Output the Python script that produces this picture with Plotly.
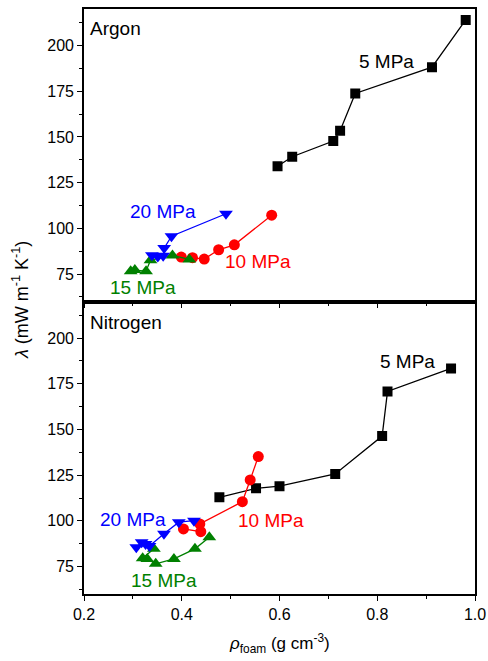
import plotly.graph_objects as go
from plotly.subplots import make_subplots

# ---- Data: Argon (top panel) ----
ar_5_x = [0.596, 0.626, 0.710, 0.724, 0.755, 0.912, 0.981]
ar_5_y = [134.0, 139.2, 147.8, 153.4, 173.8, 188.2, 214.0]
ar_10_x = [0.399, 0.422, 0.446, 0.4755, 0.5076, 0.584]
ar_10_y = [84.3, 84.0, 83.2, 88.3, 91.0, 107.2]
ar_15_x = [0.2955, 0.304, 0.327, 0.336, 0.381, 0.4155]
ar_15_y = [76.6, 77.2, 76.6, 82.6, 85.2, 83.0]
ar_20_x = [0.339, 0.351, 0.362, 0.364, 0.379, 0.4905]
ar_20_y = [85.3, 84.6, 85.0, 89.2, 95.7, 108.0]

# ---- Data: Nitrogen (bottom panel) ----
n_5_x = [0.477, 0.552, 0.600, 0.714, 0.810, 0.821, 0.951]
n_5_y = [112.9, 117.8, 119.0, 125.7, 146.4, 170.8, 183.4]
n_10_x = [0.4035, 0.439, 0.437, 0.524, 0.540, 0.5566]
n_10_y = [95.6, 94.1, 98.3, 110.5, 122.4, 135.2]
n_15_x = [0.343, 0.320, 0.3295, 0.3467, 0.384, 0.427, 0.4564]
n_15_y = [84.7, 79.6, 79.2, 76.5, 79.2, 84.7, 91.1]
n_20_x = [0.307, 0.318, 0.326, 0.334, 0.3636, 0.394, 0.425]
n_20_y = [85.6, 88.3, 87.3, 86.3, 92.9, 99.3, 100.1]

x_ticks = [0.2, 0.4, 0.6, 0.8, 1.0]
x_tick_text = ["0.2", "0.4", "0.6", "0.8", "1.0"]
y_ticks = [75, 100, 125, 150, 175, 200]

FONT = "Liberation Sans, Arial, sans-serif"
BLACK, RED, BLUE, GREEN = "#000000", "#FF0000", "#0000FF", "#008000"

fig = make_subplots(rows=2, cols=1, shared_xaxes=True, vertical_spacing=0)

def add(xs, ys, color, symbol, size, row):
    fig.add_trace(go.Scatter(
        x=xs, y=ys, mode="lines+markers",
        line=dict(color=color, width=1.3),
        marker=dict(color=color, symbol=symbol, size=size, line=dict(width=0)),
        showlegend=False), row=row, col=1)

add(ar_5_x, ar_5_y, BLACK, "square", 10, 1)
add(ar_10_x, ar_10_y, RED, "circle", 11, 1)
add(ar_15_x, ar_15_y, GREEN, "triangle-up", 12, 1)
add(ar_20_x, ar_20_y, BLUE, "triangle-down", 12, 1)

add(n_5_x, n_5_y, BLACK, "square", 10, 2)
add(n_10_x, n_10_y, RED, "circle", 11, 2)
add(n_15_x, n_15_y, GREEN, "triangle-up", 12, 2)
add(n_20_x, n_20_y, BLUE, "triangle-down", 12, 2)

xcommon = dict(range=[0.2, 1.0], tickvals=x_ticks, ticktext=x_tick_text,
               ticks="outside", ticklen=5, tickwidth=1.3, tickcolor="black",
               minor=dict(dtick=0.1, tick0=0.2, ticks="outside", ticklen=3, tickwidth=1.2, tickcolor="black"),
               showline=True, linecolor="black", linewidth=1.6, mirror=True,
               showgrid=False, zeroline=False, automargin=False,
               tickfont=dict(family=FONT, size=16, color="black"))
ycommon = dict(range=[60, 220], tickvals=y_ticks,
               ticks="outside", ticklen=5, tickwidth=1.3, tickcolor="black",
               minor=dict(dtick=12.5, tick0=75, ticks="outside", ticklen=3, tickwidth=1.2, tickcolor="black"),
               showline=True, linecolor="black", linewidth=1.6, mirror=True,
               showgrid=False, zeroline=False, automargin=False,
               tickfont=dict(family=FONT, size=16, color="black"))

fig.update_xaxes(**xcommon)
fig.update_xaxes(showticklabels=False, row=1, col=1)
fig.update_xaxes(showticklabels=True, row=2, col=1)
fig.update_yaxes(**ycommon)

ann = []
def label(text, x, y, color, ref, xanchor="center"):
    ann.append(dict(text=text, x=x, y=y, xref="x" + ref, yref="y" + ref,
                    showarrow=False, xanchor=xanchor, yanchor="middle",
                    font=dict(family=FONT, size=19, color=color)))

label("Argon", 0.208, 209.5, BLACK, "", xanchor="left")
label("5 MPa", 0.819, 191.1, BLACK, "")
label("20 MPa", 0.362, 109.2, BLUE, "")
label("10 MPa", 0.556, 82.0, RED, "")
label("15 MPa", 0.321, 67.7, GREEN, "")

label("Nitrogen", 0.208, 208.3, BLACK, "2", xanchor="left")
label("5 MPa", 0.861, 187.1, BLACK, "2")
label("20 MPa", 0.300, 100.5, BLUE, "2")
label("10 MPa", 0.5826, 100.0, RED, "2")
label("15 MPa", 0.3637, 67.3, GREEN, "2")

W, H = 488, 661
ML, MR, MT, MB = 84, 13, 9, 67
PW, PH = W - ML - MR, H - MT - MB

ann.append(dict(text="<i>λ</i> (mW m<sup>-1</sup> K<sup>-1</sup>)",
                x=(20 - ML) / PW, y=(H - MB - 300) / PH,
                xref="paper", yref="paper", showarrow=False, textangle=-90,
                xanchor="center", yanchor="middle",
                font=dict(family=FONT, size=18, color="black")))
ann.append(dict(text="<i>ρ</i><sub>foam</sub> (g cm<sup>-3</sup>)",
                x=(279 - ML) / PW, y=(H - MB - 643) / PH,
                xref="paper", yref="paper", showarrow=False,
                xanchor="center", yanchor="middle",
                font=dict(family=FONT, size=17, color="black")))

fig.update_layout(width=W, height=H, margin=dict(l=ML, r=MR, t=MT, b=MB, autoexpand=False),
                  paper_bgcolor="white", plot_bgcolor="white",
                  annotations=ann, showlegend=False)

fig.write_html("out.html", config={"displayModeBar": False},
               post_script="document.body.style.margin='0px';document.body.style.padding='0px';document.body.style.overflow='hidden';")
